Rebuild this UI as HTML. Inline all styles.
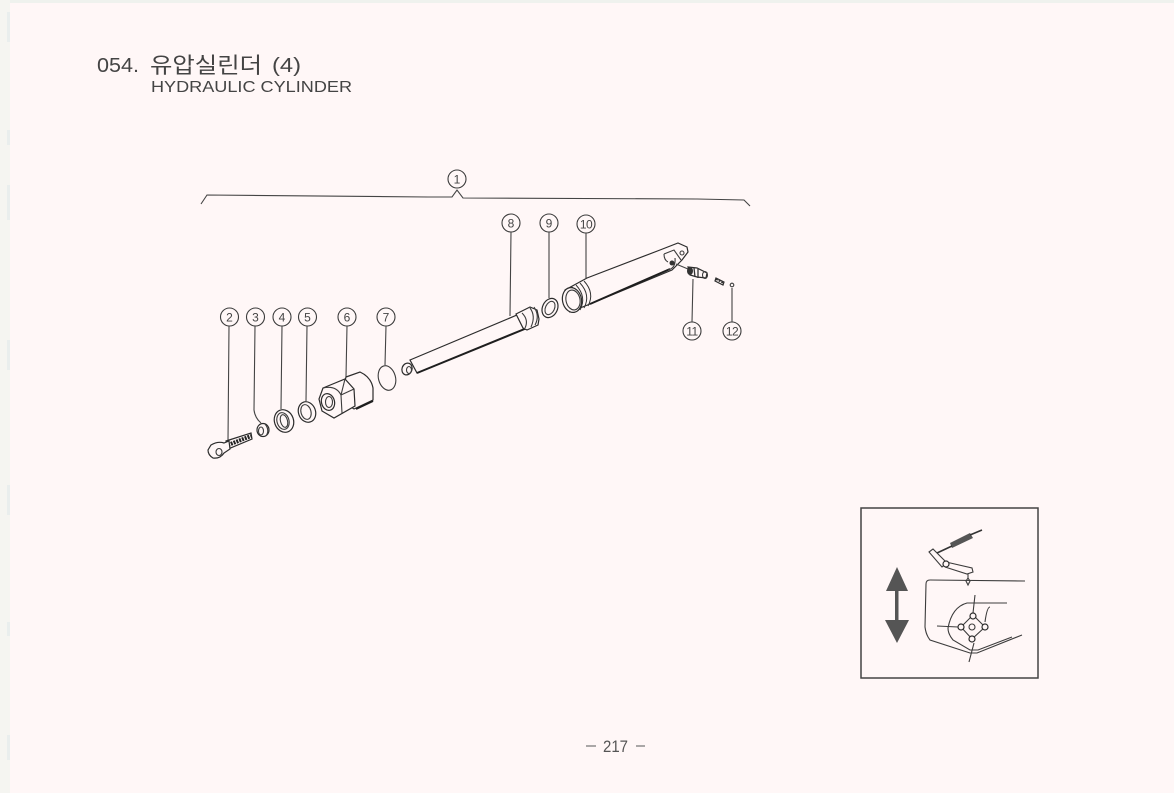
<!DOCTYPE html>
<html><head><meta charset="utf-8"><style>
html,body{margin:0;padding:0;background:#fff7f7}
body{width:1174px;height:793px;overflow:hidden}
svg{display:block}
.c{fill:none;stroke:#3c3c3c;stroke-width:1.1}
.l{fill:none;stroke:#444;stroke-width:1.1}
.p{fill:#fff7f7;stroke:#2c2c2c;stroke-width:1.2}
.d{fill:none;stroke:#1e1e1e;stroke-width:2}
.n{font-family:"Liberation Sans",sans-serif;font-size:12px;fill:#444;text-anchor:middle}
.art{filter:blur(.35px)}
</style></head><body>
<svg width="1174" height="793" viewBox="0 0 1174 793" xmlns="http://www.w3.org/2000/svg">
<rect width="1174" height="793" fill="#fff7f7"/>
<rect width="1174" height="3" fill="#eff2ee"/>
<rect x="0" y="0" width="10" height="793" fill="#f5f5f1"/>
<path d="M7 12H10V42H7ZM7 130H10V145H7ZM7 185H10V220H7ZM7 340H10V370H7ZM7 485H10V515H7ZM7 622H10V636H7ZM7 735H10V760H7Z" fill="#e9eeed"/>
<g class="art">
<text x="97" y="72" font-family="'Liberation Sans',sans-serif" font-size="20" fill="#444" textLength="42" lengthAdjust="spacingAndGlyphs">054.</text>
<text x="150" y="73" font-family="'Liberation Sans','Noto Sans CJK KR',sans-serif" font-size="22" fill="#444" textLength="112" lengthAdjust="spacingAndGlyphs">유압실린더</text>
<text x="272" y="72" font-family="'Liberation Sans',sans-serif" font-size="20" fill="#444" textLength="29" lengthAdjust="spacingAndGlyphs">(4)</text>
<text x="151" y="92" font-family="'Liberation Sans',sans-serif" font-size="16" fill="#444" textLength="201" lengthAdjust="spacingAndGlyphs">HYDRAULIC CYLINDER</text>
<text x="603" y="752" font-family="'Liberation Sans',sans-serif" font-size="17" fill="#555" textLength="25" lengthAdjust="spacingAndGlyphs">217</text>
<path d="M586 746H596M636 746H645" stroke="#777" stroke-width="1.200"/>

<path class="l" d="M201 204L207 195L428 197L452 197L457 190L463 198L697 199L744 200L750 206"/>
<g>
<circle class="c" cx="457" cy="179" r="9"/><text class="n" x="457" y="183.500">1</text>
<circle class="c" cx="229.500" cy="317" r="9"/><text class="n" x="229.500" y="321.500">2</text>
<circle class="c" cx="255.500" cy="317" r="9"/><text class="n" x="255.500" y="321.500">3</text>
<circle class="c" cx="282" cy="317" r="9"/><text class="n" x="282" y="321.500">4</text>
<circle class="c" cx="307.500" cy="317" r="9"/><text class="n" x="307.500" y="321.500">5</text>
<circle class="c" cx="347" cy="317" r="9"/><text class="n" x="347" y="321.500">6</text>
<circle class="c" cx="386" cy="317" r="9"/><text class="n" x="386" y="321.500">7</text>
<circle class="c" cx="511" cy="223" r="9"/><text class="n" x="511" y="227.500">8</text>
<circle class="c" cx="549" cy="223" r="9"/><text class="n" x="549" y="227.500">9</text>
<circle class="c" cx="586" cy="224" r="9"/><text class="n" x="586" y="228.500" letter-spacing="-.5">10</text>
<circle class="c" cx="692" cy="331" r="9"/><text class="n" x="692" y="335.500" letter-spacing="-.5">11</text>
<circle class="c" cx="732" cy="331" r="9"/><text class="n" x="732" y="335.500" letter-spacing="-.5">12</text>
</g>
<path class="l" d="M229 326L228 441M255 326L254 410Q255 418 261 423M282 326L281 409M307 326L306 401M347 326L346 377M386 326L385 365M511 232L510 316M549 232L549 298M586 233L586 278M692 322L693 279M732 322L732 288"/>

<!-- 2 bolt -->
<path class="p" d="M226 441L251 433L252 439L228 449Z"/>
<path d="M228 445L251 436" stroke="#222" stroke-width="4" stroke-dasharray="2 1" fill="none"/>
<path class="p" d="M211 445Q218 441 224 443L229 441L230 449L224 453Q220 459 213 458Q208 455 208 450Z"/>
<ellipse class="c" cx="219" cy="452" rx="3" ry="3.500"/>
<!-- 3 nut -->
<ellipse class="p" cx="263" cy="430" rx="6" ry="6.500"/>
<ellipse class="c" cx="261" cy="431" rx="2.500" ry="4" stroke-width="1.500"/>
<path d="M265 424Q270 430 266 436" class="c"/>
<!-- 4 -->
<ellipse class="p" cx="284" cy="421" rx="9.500" ry="11.500" transform="rotate(-20 284 421)"/>
<ellipse class="c" cx="283" cy="421" rx="6" ry="8.500" transform="rotate(-15 283 421)"/>
<ellipse class="c" cx="284" cy="421" rx="3.500" ry="6.500" transform="rotate(-15 284 421)"/>
<!-- 5 -->
<ellipse class="p" cx="307" cy="412" rx="8.500" ry="10.500" transform="rotate(-20 307 412)"/>
<ellipse class="c" cx="306" cy="412" rx="5" ry="7.500" transform="rotate(-15 306 412)"/>
<!-- 6 -->
<path class="p" d="M346 377L360 372Q371 377 373 388L373 400L354 409L340 400Z"/>
<path d="M356 409L373 401" class="d"/>
<path class="p" d="M323 388L345 379L354 389L355 406L334 418L322 411L319 399Z"/>
<path class="c" d="M323 388Q336 385 341 395L345 379M341 395L342 413M354 389L341 395"/>
<ellipse class="p" cx="328" cy="402" rx="6.500" ry="8.500" transform="rotate(-15 328 402)"/>
<ellipse class="c" cx="329" cy="402" rx="3.500" ry="5.500" stroke-width="1.300"/>
<!-- 7 -->
<ellipse class="c" cx="387" cy="378" rx="8.500" ry="12.500" transform="rotate(-15 387 378)" stroke-width="1.200"/>
<!-- 8 -->
<path class="p" d="M410 360L517 315L527 328L417 373Z"/>
<path d="M417 373L527 328" class="d"/>
<ellipse class="p" cx="407" cy="369" rx="5" ry="6" transform="rotate(20 407 369)"/>
<ellipse class="c" cx="409" cy="370" rx="2.500" ry="3.500"/>
<path class="p" d="M516 314L530 307L537 310L539 319L538 325L527 330L523 328Z"/>
<path class="c" d="M522 313Q529 320 525 328M530 308Q536 316 531 327M534 307Q540 316 535 325"/>
<!-- 9 -->
<ellipse class="p" cx="550" cy="308" rx="7.500" ry="10" transform="rotate(25 550 308)" stroke-width="1.500"/>
<ellipse class="c" cx="550" cy="308" rx="4.500" ry="7" transform="rotate(25 550 308)"/>
<!-- 10 -->
<path class="p" d="M565 290L587 278L660 250L678 243L687 247L688 252L682 260L672 270L590 304L570 312Z"/>
<path d="M590 304L670 269" class="d" stroke-width="2.200"/>
<path d="M572 287Q583 299 576 311M576 285Q587 297 580 310M580 283Q591 295 584 308M584 281Q595 293 588 306" stroke="#333" fill="none"/>
<ellipse class="p" cx="572" cy="300" rx="9.500" ry="12.500" transform="rotate(-12 572 300)"/>
<ellipse class="c" cx="573" cy="300" rx="7" ry="10" transform="rotate(-12 573 300)"/>
<path class="c" d="M664 254L674 250L681 260M664 254Q664 260 668 262M668 270Q676 268 675 258"/>
<circle class="c" cx="682" cy="253" r="2"/>
<circle cx="672" cy="263" r="2.500" fill="#333"/>
<!-- 11 -->
<path class="l" d="M676 264L688 269"/>
<path class="p" d="M688 267L697 268L707 273L706 278L697 277L690 275Z"/>
<ellipse cx="690" cy="271" rx="3" ry="4" fill="#333"/>
<ellipse class="c" cx="705" cy="275" rx="2.500" ry="3.500" stroke-width="1.500"/>
<path d="M694 268L695 277M698 269L698 278" stroke="#333" stroke-width="1.300" fill="none"/>
<!-- 12 -->
<path class="p" d="M716 278L724 282L723 285L715 281Z"/>
<path d="M716 279L724 283" stroke="#333" stroke-width="2" stroke-dasharray="2 1" fill="none"/>
<circle class="c" cx="732" cy="285" r="1.800"/>

<!-- inset -->
<rect x="861" y="508" width="177" height="170" fill="none" stroke="#444" stroke-width="1.500"/>
<path d="M897 567L908 591L886 591Z M885 620L909 620L897 643Z" fill="#555"/>
<rect x="895" y="590" width="3.500" height="31" fill="#555"/>
<path d="M950 543L970 533L973 538L952 548Z" fill="#555"/>
<path d="M937 553L952 546M970 535L982 530" stroke="#333" stroke-width="1.600"/>
<path class="c" d="M929 552L933 549L947 563L942 567ZM946 562L972 568L973 572L967 574L945 567"/>
<circle class="p" cx="946" cy="564" r="3"/>
<path class="c" d="M968 574V578L970 581L968 585L966 581L968 578"/>
<path class="c" d="M1025 581L930 580Q926 580 926 584L925 627Q926 635 930 640L970 653L977 653L1022 635M1007 603L967 603Q952 607 948 628Q948 634 953 640L970 650L978 650L1012 637"/>
<path class="c" d="M975 595L973 613M990 607Q987 607 985 622M937 626L958 627M974 643L969 662"/>
<path class="c" d="M973 615L985 627L972 639L961 627Z"/>
<circle class="p" cx="973" cy="616" r="3"/><circle class="p" cx="985" cy="627" r="3"/><circle class="p" cx="972" cy="639" r="3"/><circle class="p" cx="961" cy="627" r="3"/><circle class="c" cx="972" cy="627" r="3"/>
</g>
</svg>
</body></html>
